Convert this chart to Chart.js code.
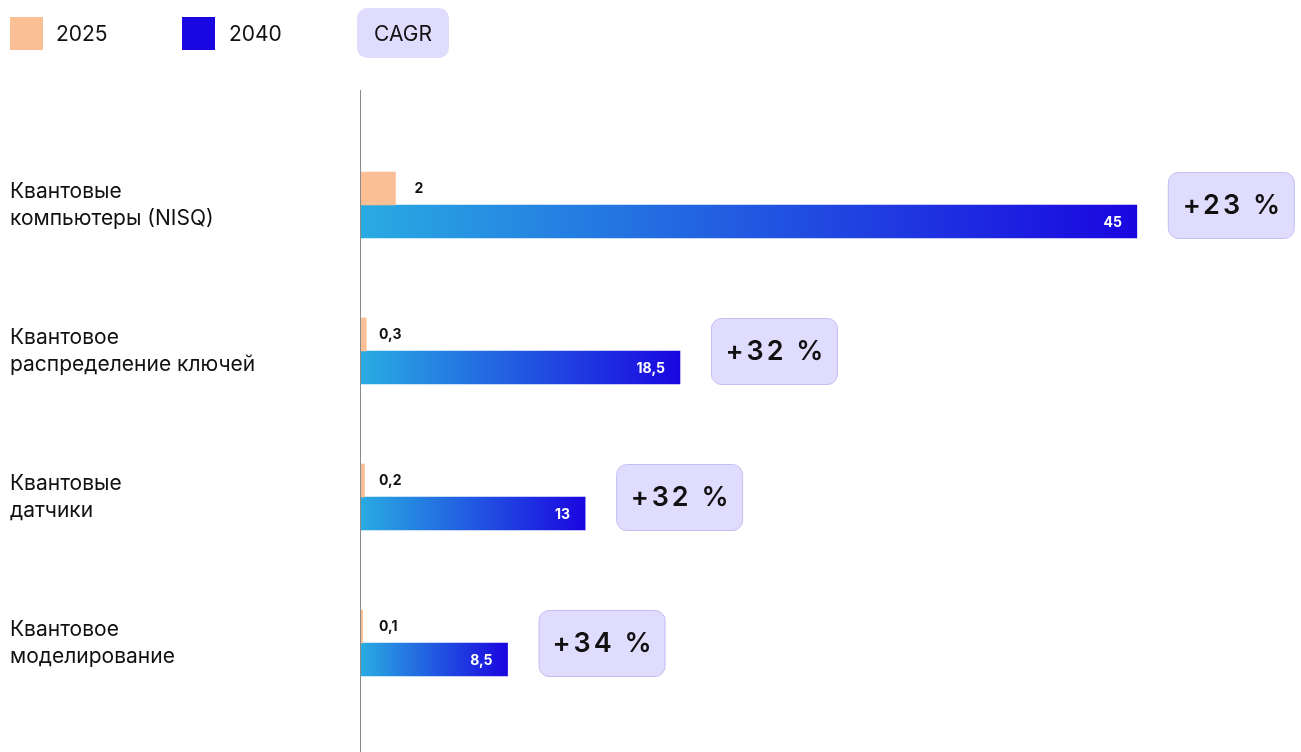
<!DOCTYPE html>
<html>
<head>
<meta charset="utf-8">
<script src="https://cdn.jsdelivr.net/npm/chart.js@4.4.1/dist/chart.umd.min.js"></script>
<style>
  html, body { margin: 0; padding: 0; background: #fff; }
  #wrap { width: 1301px; height: 752px; position: relative; }
</style>
</head>
<body>
<div id="wrap"><canvas id="chart"></canvas></div>
<script>
// --- data ---
const categories = [
    ['Квантовые', 'компьютеры (NISQ)'],
    ['Квантовое', 'распределение ключей'],
    ['Квантовые', 'датчики'],
    ['Квантовое', 'моделирование']
];
const values2025 = [2, 0.3, 0.2, 0.1];
const values2040 = [45, 18.5, 13, 8.5];
const cagrLabels = ['+23 %', '+32 %', '+32 %', '+34 %'];
const seriesNames = ['2025', '2040'];

const PEACH = '#fbbf96';
const BLUE = '#1a06e0';
const CYAN = '#29abe2';
const FONT = "Inter, 'Noto Sans', sans-serif";

const fmt = v => String(v).replace('.', ',');

function roundRect(ctx, x, y, w, h, r) {
    ctx.beginPath();
    ctx.moveTo(x + r, y);
    ctx.arcTo(x + w, y, x + w, y + h, r);
    ctx.arcTo(x + w, y + h, x, y + h, r);
    ctx.arcTo(x, y + h, x, y, r);
    ctx.arcTo(x, y, x + w, y, r);
    ctx.closePath();
}

// draws legend, category labels, axis line, value labels and CAGR pills
const decorations = {
    id: 'decorations',
    afterDatasetsDraw(chart) {
        const ctx = chart.ctx;
        const ys = chart.scales.y;
        ctx.save();

        // legend
        ctx.fillStyle = PEACH;
        ctx.fillRect(10, 17, 33, 33);
        ctx.fillStyle = BLUE;
        ctx.fillRect(182, 17, 33, 33);
        ctx.fillStyle = '#111';
        ctx.font = '21px ' + FONT;
        ctx.textBaseline = 'middle';
        ctx.textAlign = 'left';
        ctx.fillText(seriesNames[0], 56, 35);
        ctx.fillText(seriesNames[1], 229, 35);
        roundRect(ctx, 357, 8, 92, 50, 10);
        ctx.fillStyle = '#e0dcfd';
        ctx.fill();
        ctx.fillStyle = '#111';
        ctx.textAlign = 'center';
        ctx.fillText('CAGR', 403, 35);

        // axis line
        ctx.strokeStyle = '#8a8a8a';
        ctx.lineWidth = 1;
        ctx.beginPath();
        ctx.moveTo(360.5, 90);
        ctx.lineTo(360.5, 752);
        ctx.stroke();

        // category labels
        ctx.fillStyle = '#111';
        ctx.textAlign = 'left';
        ctx.font = '21px ' + FONT;
        categories.forEach((lines, i) => {
            const cy = ys.getPixelForValue(i);
            ctx.fillText(lines[0], 10, cy - 13);
            ctx.fillText(lines[1], 10, cy + 14);
        });

        const m0 = chart.getDatasetMeta(0);
        const m1 = chart.getDatasetMeta(1);
        ctx.font = 'bold 14px ' + FONT;
        m0.data.forEach((bar, i) => {
            ctx.fillStyle = '#111';
            ctx.textAlign = 'left';
            const lx = bar.x < 375 ? 379 : bar.x + 19;
            ctx.fillText(fmt(values2025[i]), lx, bar.y);
        });
        m1.data.forEach((bar, i) => {
            ctx.fillStyle = '#fff';
            ctx.textAlign = 'right';
            ctx.fillText(fmt(values2040[i]), bar.x - 15, bar.y + 1);
        });

        // CAGR pills
        categories.forEach((c, i) => {
            const top = m0.data[i].y - 16.5;
            const left = m1.data[i].x + 31;
            const w = 126, h = 66;
            roundRect(ctx, left + 0.5, top + 0.5, w, h, 10);
            ctx.fillStyle = '#e0dcfd';
            ctx.fill();
            ctx.strokeStyle = '#c4bdf2';
            ctx.lineWidth = 1;
            ctx.stroke();
            ctx.fillStyle = '#111';
            ctx.textAlign = 'center';
            ctx.font = '600 27px ' + FONT;
            ctx.letterSpacing = '3px';
            ctx.fillText(cagrLabels[i], left + w / 2 + 2, top + h / 2 + 1);
            ctx.letterSpacing = '0px';
        });

        ctx.restore();
    }
};

function blueGradient(context) {
    const chart = context.chart;
    if (!chart.chartArea || context.type !== 'data') return BLUE;
    const xs = chart.scales.x;
    const x0 = xs.getPixelForValue(0);
    const x1 = xs.getPixelForValue(context.raw);
    const g = chart.ctx.createLinearGradient(x0, 0, x1, 0);
    g.addColorStop(0, CYAN);
    g.addColorStop(1, BLUE);
    return g;
}

new Chart(document.getElementById('chart'), {
    type: 'bar',
    data: {
        labels: categories.map(c => c.join(' ')),
        datasets: [
            { label: seriesNames[0], data: values2025, backgroundColor: PEACH },
            { label: seriesNames[1], data: values2040, backgroundColor: blueGradient }
        ]
    },
    options: {
        indexAxis: 'y',
        responsive: true,
        maintainAspectRatio: false,
        animation: false,
        barThickness: 33,
        layout: { padding: { left: 361, right: 9, top: 132, bottom: 36 } },
        scales: {
            x: { display: false, min: 0, max: 54 },
            y: { display: false }
        },
        plugins: {
            legend: { display: false },
            tooltip: { enabled: false }
        }
    },
    plugins: [decorations]
});
</script>
</body>
</html>
